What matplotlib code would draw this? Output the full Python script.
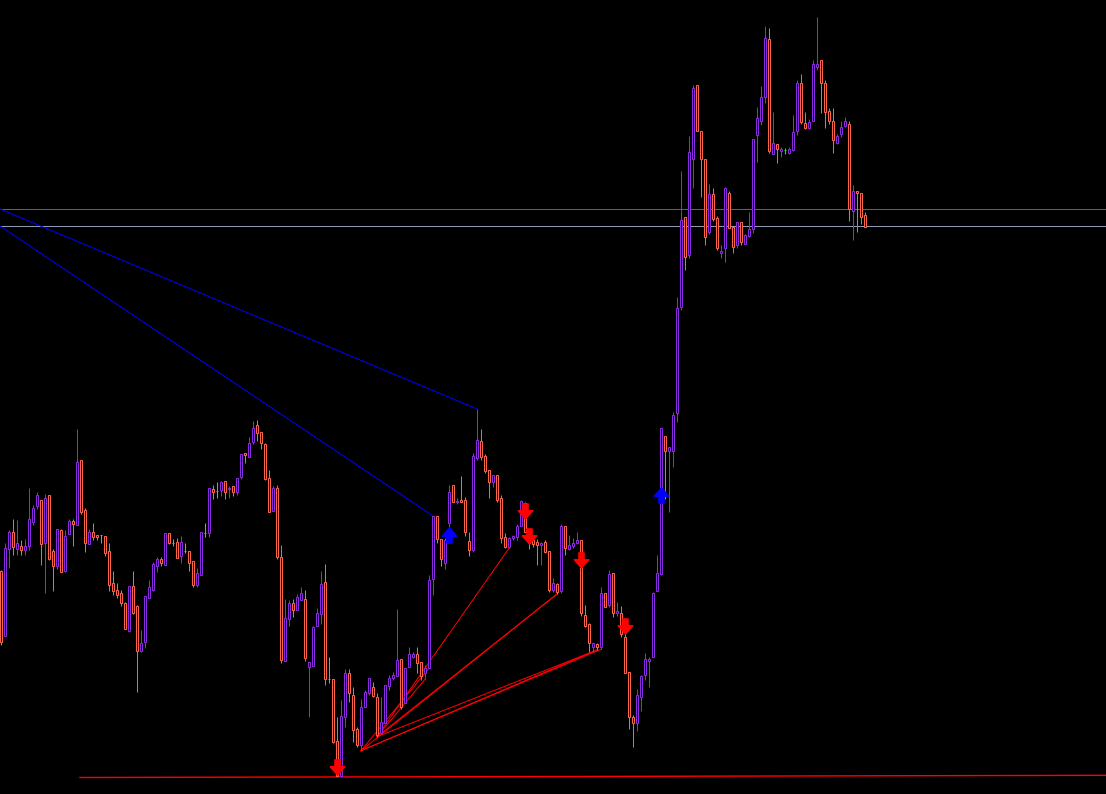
import numpy as np
import matplotlib.pyplot as plt
from matplotlib.path import Path

# OHLC (arbitrary price units)
opens = [
    229, 164.3, 251.3, 268, 251.3, 254, 250, 254, 278.3, 294,
    300, 257.3, 305, 249, 234.3, 270, 229.3, 266.3, 279, 275.3,
    340, 290, 256.3, 268, 265, 264.7, 264, 249, 217, 210,
    207, 197, 169, 214, 194, 149.3, 158.3, 202.3, 210, 234.3,
    241, 235.3, 267, 257, 258, 244.3, 249, 249, 239, 215.3,
    225.3, 267, 267.3, 311, 309, 310, 319, 310.7, 314, 308,
    323, 347, 343.3, 358, 375, 367.7, 356, 321.7, 289.3, 311.7,
    243, 139.3, 181, 197, 190, 200, 201, 133.3, 134.3, 174,
    186, 218.3, 120.7, 121.3, 59, 24, 83.3, 126.7, 104.7, 71.3,
    54.7, 93.3, 107.3, 112.7, 103.3, 67.3, 77.3, 114, 121.7, 124,
    140.7, 96.7, 133.3, 143.3, 146, 137.7, 126.7, 131.7, 221.3, 284,
    261, 237.3, 276.7, 314.7, 297.7, 300, 300, 258.7, 250.3, 342.3,
    358.7, 344, 330, 318.3, 324.7, 301.7, 263.3, 253.3, 261.7, 263.3,
    274, 297.3, 260, 260, 258.3, 255, 258.3, 249.3, 210, 216,
    209, 274, 250.7, 254, 256.7, 260, 185, 176, 153.3, 156,
    153.3, 206.7, 195, 226.7, 186.7, 187.3, 162.7, 127.7, 82.7, 77.3,
    102.7, 125, 139.3, 142.7, 209.3, 226.5, 364.5, 349.3, 349.3, 386.7,
    493.2, 583.4, 545.2, 640.6, 714.8, 669, 640.7, 567.7, 605.7, 581.7,
    546.7, 551.7, 606.7, 573.3, 555, 577.7, 555.7, 564.3, 570.7, 665,
    679.3, 703.3, 760.7, 646, 655.7, 649.3, 650, 647.3, 650, 669.3,
    717.3, 676.7, 672.3, 679.3, 733.3, 740, 716.7, 689, 679.3, 657.3,
    665.7, 674.3, 675.7, 589.3, 608.7, 606.7, 584.7,
]
highs = [
    230, 256.7, 270, 281, 280, 260, 261, 312, 295, 308,
    300, 306, 305, 251, 271, 271, 270, 281, 281, 371,
    340, 292, 271, 277, 265, 264.7, 264, 257, 229, 217,
    210, 198, 214, 229, 195, 170, 204, 220, 238, 243,
    243, 267, 267, 261, 262, 264, 257, 249, 239, 232,
    268, 277, 312, 315, 318, 319, 319, 314, 314, 322,
    346, 347, 362.7, 379, 380, 368, 356.7, 330, 314, 315,
    255, 201, 200, 201, 206, 213, 210, 137.7, 174, 192,
    229, 236, 143, 121.3, 83.3, 100, 130.7, 130.7, 113.3, 73.3,
    101.3, 110, 121.7, 118.3, 106.7, 103.3, 115, 125, 128, 191,
    140.7, 132.3, 153.3, 148, 153.3, 137.7, 135, 225, 284, 284,
    261, 261.7, 314.7, 314.7, 301.7, 324, 303, 267.7, 346.7, 391,
    371, 346, 330, 324.7, 324.7, 305, 267.3, 263.3, 265, 276,
    300, 298.3, 263.3, 261.7, 260.7, 258.3, 260, 249.3, 221.7, 216.7,
    276, 274, 265, 261.7, 268, 260, 195, 177.3, 157.3, 157.3,
    213.3, 206.7, 230, 226.7, 198.3, 194, 168.3, 128, 84.7, 110.7,
    125, 146.7, 142.7, 207.7, 245, 372, 364.5, 352.7, 387.7, 503.3,
    629, 583.4, 663.6, 714.8, 714.8, 669, 640.7, 616, 611.7, 584.3,
    554.7, 612.7, 609.3, 573.3, 577.7, 577.7, 565.7, 588, 660.7, 693.3,
    714, 774, 772, 688, 655.7, 653.3, 651.7, 652.7, 685, 720,
    726, 688, 681.3, 740, 782.7, 740, 720, 691.7, 691.7, 666,
    679.3, 683.3, 679.3, 615, 608.7, 606.7, 588,
]
lows = [
    155, 164.3, 232.3, 245, 245, 245, 245, 250, 275, 291,
    235, 207.3, 240, 209, 231, 228.3, 228.3, 266.3, 254, 275.3,
    286, 248, 256.3, 260, 260, 257.3, 244, 209.3, 205.3, 202.3,
    194.3, 171, 168.3, 186, 108.3, 148.3, 152.3, 202.3, 209, 228.3,
    234.3, 235.3, 256, 254, 242.3, 237.3, 247.3, 229.3, 213.3, 213.3,
    225.3, 263, 263, 301, 302, 304, 301, 302, 304, 305,
    321, 337.3, 343, 356, 359.3, 351.3, 320, 288.3, 289.3, 240.7,
    137.3, 139.3, 174, 183.3, 190, 200, 139.3, 83.3, 134.3, 174,
    176, 115.3, 117.3, 56.7, 24, 24, 73.3, 98.3, 58, 53.3,
    49.3, 93.3, 105, 103.3, 63.3, 67.3, 77.3, 110, 120, 124,
    90.7, 96.7, 133.3, 142, 126.7, 120, 120.7, 131.7, 205.3, 257.3,
    234.3, 231.3, 256.7, 298, 295.7, 298.3, 264, 244.3, 248.3, 340,
    340, 327.3, 302.3, 313.3, 298.3, 256.7, 251.7, 251.7, 260, 260,
    274, 268.3, 250.7, 253.3, 235, 235, 246.7, 208.3, 208.3, 206,
    206.7, 245, 250, 251.7, 256, 184, 172.7, 148.3, 148.3, 150,
    150.7, 193.3, 193.3, 183.3, 184, 163, 126.7, 70.7, 53.3, 69.3,
    89.3, 120, 112.7, 142.7, 209.3, 225, 301.5, 288.3, 333.3, 378.3,
    490.2, 530.5, 542.2, 611.6, 668.8, 602.7, 554.7, 565.7, 579, 550,
    541.7, 538.3, 571.7, 546.7, 551.7, 555, 555.7, 562.7, 567.3, 638.3,
    675, 696.7, 646.7, 646, 637.3, 643.3, 646, 646, 649.3, 665,
    676, 671.3, 671.3, 679.3, 730, 686.7, 672.3, 676, 647.3, 656,
    663.3, 672.7, 579.3, 560, 568.3, 576, 573.3,
]
closes = [
    158.3, 252, 268, 253.3, 256.7, 250, 254, 281, 292, 305,
    256.3, 302, 241, 234.3, 271, 228.3, 264, 279, 276.3, 338,
    288.3, 257.3, 268, 263.3, 263.3, 264.7, 247.3, 215.3, 209.3, 205.3,
    197.3, 171, 214, 187, 149.3, 157, 204, 213, 236, 241,
    237, 267, 257, 257, 242.3, 258, 249, 237.3, 215.3, 227,
    268, 267, 312, 308, 309, 318, 308, 312, 308, 322,
    346, 345.3, 357, 372, 367.3, 356.7, 321, 288.3, 311.7, 242.7,
    140, 181.7, 197, 190, 203, 207, 142, 137.7, 173, 187,
    216, 120.7, 120.7, 58, 24, 84, 126.7, 107.3, 70, 54.7,
    92.7, 108, 121.7, 104, 65, 78, 115, 122.3, 125, 140,
    92.7, 132.3, 146, 146, 136.7, 124, 132.3, 220, 284, 261,
    241.3, 259.7, 308, 298, 299, 298.3, 267.7, 250.3, 344, 360,
    342.7, 329.3, 318.3, 324.7, 300, 261.7, 253.3, 261.7, 264, 274,
    299, 268.3, 256.7, 256, 255, 257.3, 248.3, 210, 216.7, 208.3,
    274, 251.7, 255, 257.3, 260, 186.7, 174, 157.3, 156.7, 153.3,
    206.7, 193.3, 225.7, 187.3, 189.3, 165.7, 126.7, 83.3, 77.3, 105,
    124, 140.7, 140.7, 206.7, 226.7, 371.8, 349.5, 352.7, 385, 491.7,
    580.4, 543.5, 647.6, 712.2, 668.8, 641, 562.7, 605.7, 581, 551.7,
    549.3, 611.7, 571.7, 552.7, 577.7, 557.7, 565, 570.7, 660.7, 681.7,
    703.3, 761.7, 649.3, 656.7, 650.7, 650.7, 650, 650.7, 668.3, 717.3,
    678.3, 672.3, 678.3, 735.7, 735.7, 716.7, 688.3, 679.3, 660, 664,
    673.3, 679.3, 590.7, 609.3, 606.7, 583.3, 573.3,
]

# signal arrows: (bar index, price)
sell_idx = [84, 131, 132, 145, 156]
sell_px = [33, 289, 264, 240.5, 174]
buy_idx = [112, 165]
buy_px = [265, 305.5]

# horizontal levels
level_red = 591
level_gray = 574

# blue trend lines: (start bar, start price, end bar)
blue_lines = [(-0.25, 591, 119), (-0.25, 574, 108)]
# red fan lines joining lows: (from bar, to bar)
fan_pairs = [(90, 107), (94, 106), (94, 127), (90, 139), (94, 139),
             (90, 149), (94, 149), (90, 150)]
# bottom red trend line: (bar, price) pairs
bottom_line = [(19.75, 22.5), (276.25, 24.7)]

bull_col = "#8a2be2"
bear_col = "#ff6347"
doji_col = "#00ff00"

o = np.array(opens)
h = np.array(highs)
l = np.array(lows)
c = np.array(closes)
x = np.arange(len(o))

fig = plt.figure(figsize=(11.06, 7.94), dpi=100)
fig.patch.set_facecolor("black")
ax = fig.add_axes([0, 0, 1, 1])
ax.set_facecolor("black")
ax.set_xlim(-0.25, 276.25)
ax.set_ylim(6, 800)
ax.axis("off")

colors = np.where(c > o, bull_col, np.where(c < o, bear_col, doji_col))
top = np.maximum(o, c)
bot = np.minimum(o, c)

lw = 0.72  # one pixel
ax.axhline(level_red, color="#ff2020", lw=lw, zorder=1)
ax.axhline(level_gray, color="#8d9bb3", lw=lw, zorder=1)

for x0, y0, k in blue_lines:
    ax.plot([x0, k], [y0, h[k]], color="#0000ff", lw=lw, zorder=2)

for a, b in fan_pairs:
    ax.plot([a, b], [l[a], l[b]], color="#ff0000", lw=lw, zorder=2)

ax.plot([p[0] for p in bottom_line], [p[1] for p in bottom_line],
        color="#ff0000", lw=lw * 1.4, zorder=2)

# wicks
ax.vlines(x, top, h, colors=colors, lw=lw, zorder=3)
ax.vlines(x, l, bot, colors=colors, lw=lw, zorder=3)
# hollow bodies
ax.bar(x, top - bot, bottom=bot, width=0.5, color="black",
       edgecolor=colors, linewidth=lw, zorder=4)

down = Path([(-0.17, 0.5), (0.17, 0.5), (0.17, 0.05), (0.48, 0.05),
             (0, -0.5), (-0.48, 0.05), (-0.17, 0.05), (-0.17, 0.5)],
            [Path.MOVETO] + [Path.LINETO] * 6 + [Path.CLOSEPOLY])
up = Path(down.vertices * [1, -1], down.codes)

ax.plot(sell_idx, sell_px, ls="none", marker=down, ms=11,
        color="#ff0000", mec="#ff0000", zorder=5)
ax.plot(buy_idx, buy_px, ls="none", marker=up, ms=11,
        color="#0000ff", mec="#0000ff", zorder=5)

plt.savefig("out.png", dpi=100, facecolor="black")
